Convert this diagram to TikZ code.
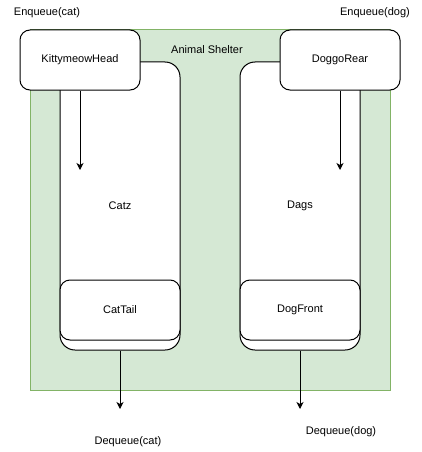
\documentclass[tikz,border=0pt]{standalone}
\usepackage{fontspec}
\setmainfont{Liberation Sans}
\usepackage{tikz}
\usetikzlibrary{arrows.meta,positioning}

\definecolor{shelterfill}{HTML}{D5E8D4}
\definecolor{shelterline}{HTML}{82B366}
\definecolor{textgray}{HTML}{333333}

\tikzset{
  queuebox/.style={draw,line width=1pt,fill=white,rounded corners=15pt,
    minimum width=120pt,minimum height=288pt,inner sep=0pt},
  endbox/.style={draw,line width=1pt,fill=white,rounded corners=10pt,
    minimum width=120pt,minimum height=60pt,inner sep=0pt},
  lbl/.style={inner sep=0pt,text=black},
  arr/.style={line width=1pt,-{Stealth[length=7pt,width=7pt,inset=2pt]}}
}

\begin{document}
\begin{tikzpicture}[x=1pt,y=-1pt,font=\fontsize{11}{13}\selectfont]

\useasboundingbox[fill=white] (0,0) rectangle (422,452);

% shelter
\node[draw=shelterline,fill=shelterfill,line width=1pt,minimum width=360pt,
  minimum height=360pt] (shelter) at (210,210) {};
\node[lbl] (sheltername) at (207,50) {Animal Shelter};

% queues
\node[queuebox] (catz) at (120,206) {Catz};
\node[queuebox] (dags) at (300,206) {Dags};

% rear and front of each queue
\node[endbox] (head) at (80,60) {KittymeowHead};
\node[endbox] (rear) at (340,60) {DoggoRear};
\node[endbox] (tail) at (120,310) {CatTail};
\node[endbox] (front) at (300,310) {DogFront};

% enqueue
\node[lbl] (enqcat) at (47,13) {Enqueue(cat)};
\node[lbl] (enqdog) at (375,13) {Enqueue(dog)};
\coordinate (catin) at (80,170);
\coordinate (dogin) at (340,170);
\draw[arr] (head) -- (catin);
\draw[arr] (rear) -- (dogin);

% dequeue
\coordinate (catout) at (120,409);
\coordinate (dogout) at (300,409);
\draw[arr] (catz.south) -- (catout);
\draw[arr] (dags.south) -- (dogout);
\node[lbl] (deqcat) at (128,442) {Dequeue(cat)};
\node[lbl] (deqdog) at (341,432) {Dequeue(dog)};

\end{tikzpicture}
\end{document}
